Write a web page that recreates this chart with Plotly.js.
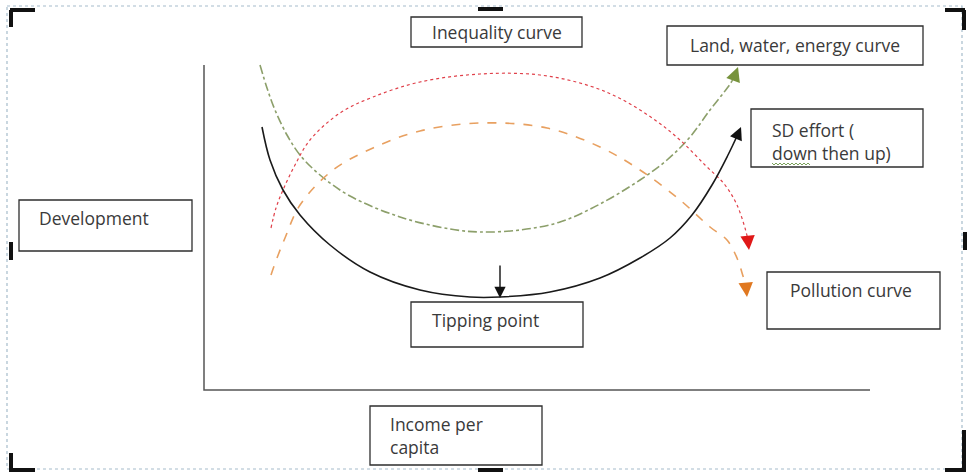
<!DOCTYPE html>
<html>
<head>
<meta charset="utf-8">
<script src="https://cdn.plot.ly/plotly-3.0.1.min.js"></script>
<style>html,body{margin:0;padding:0;background:#fff;}#chart{width:967px;height:472px;}</style>
</head>
<body>
<div id="chart"></div>
<script>
// Curves (diagram coordinates: x = income per capita, y = position down the page)
const sdX = [262, 270, 283, 300, 330, 370, 420, 470, 500, 550, 600, 640, 670, 692, 712, 728, 738];
const sdY = [127, 160, 190, 215, 245, 272, 290, 297, 297, 292, 278, 258, 238, 215, 185, 155, 134];

const ineqX = [271, 276, 283, 295, 310, 340, 373, 420, 480, 540, 590, 623, 655, 680, 705, 725, 737, 745, 748];
const ineqY = [228, 208, 190, 165, 140, 113, 97, 82, 74, 75, 86, 100, 120, 140, 165, 185, 205, 228, 240];

const pollX = [271, 277, 285, 300, 333, 373, 420, 480, 547, 600, 640, 680, 710, 727, 737, 743, 746];
const pollY = [275, 258, 238, 205, 170, 148, 131, 123, 128, 147, 170, 200, 227, 240, 258, 276, 286];

const landX = [260, 267, 275, 287, 300, 320, 350, 400, 450, 480, 520, 560, 600, 640, 667, 690, 710, 728, 734];
const landY = [65, 88, 110, 135, 155, 175, 196, 217, 229, 232, 230, 222, 204, 180, 160, 137, 110, 87, 78];

// Axes of the sketch
const axisX = [204, 204, 870];
const axisY = [65, 390, 390];

// Arrow heads: [headX, headY, tailX, tailY]
const sdHead = [741, 127, 738, 134];
const ineqHead = [749, 250, 748, 240];
const pollHead = [747, 297, 746, 286];
const landHead = [738, 67, 734, 78];
const tipHead = [500, 298, 500, 264];

// Label boxes: [x0, y0, x1, y1]
const boxes = [
  [411, 17, 582, 47],
  [667, 26, 923, 65],
  [751, 109, 923, 167],
  [19, 200, 192, 251],
  [411, 302, 583, 347],
  [767, 272, 940, 329],
  [370, 406, 542, 465]
];
const labelText = [
  "Inequality curve",
  "Land, water, energy curve",
  "SD effort (<br>down then up)",
  "Development",
  "Tipping point",
  "Pollution curve",
  "Income per<br>capita"
];
const labelX = [497, 795, 770, 37, 430, 788, 388];
const labelY = [32, 45, 141, 218, 320, 290, 435];
const labelAnchor = ["center", "center", "left", "left", "left", "left", "left"];

const font = {family: "Open Sans, Liberation Sans, sans-serif", size: 17.5, color: "#3a3a3a"};

const traces = [
  {x: axisX, y: axisY, mode: "lines", line: {color: "#555", width: 1.5}, hoverinfo: "skip"},
  {x: landX, y: landY, mode: "lines", line: {color: "#8c9f6a", width: 1.6, dash: "dashdot", shape: "spline"}, hoverinfo: "skip"},
  {x: ineqX, y: ineqY, mode: "lines", line: {color: "#e0404a", width: 1.2, dash: "dot", shape: "spline"}, hoverinfo: "skip"},
  {x: pollX, y: pollY, mode: "lines", line: {color: "#e8a060", width: 1.6, dash: "dash", shape: "spline"}, hoverinfo: "skip"},
  {x: sdX, y: sdY, mode: "lines", line: {color: "#1a1a1a", width: 1.6, shape: "spline"}, hoverinfo: "skip"}
];

function arrow(h, color, width, size) {
  return {x: h[0], y: h[1], ax: h[2], ay: h[3], xref: "x", yref: "y", axref: "x", ayref: "y",
          text: "", showarrow: true, arrowhead: 2, arrowsize: size, arrowwidth: width, arrowcolor: color};
}

const annotations = [
  arrow(sdHead, "#111", 1.6, 1.6),
  arrow(ineqHead, "#e01818", 1.6, 1.8),
  arrow(pollHead, "#e07820", 1.6, 1.8),
  arrow(landHead, "#77933c", 1.6, 1.8),
  arrow(tipHead, "#111", 1.4, 1.6)
];
labelText.forEach((t, i) => {
  annotations.push({x: labelX[i], y: labelY[i], xref: "x", yref: "y", text: t, showarrow: false,
    xanchor: labelAnchor[i], yanchor: "middle", align: "left", font: font});
});

const shapes = [];
// outer dashed frame
shapes.push({type: "rect", xref: "x", yref: "y", x0: 7, y0: 6, x1: 962, y1: 469,
  line: {color: "#a6bccb", width: 1.2, dash: "dot"}});
boxes.forEach(b => shapes.push({type: "rect", xref: "x", yref: "y", x0: b[0], y0: b[1], x1: b[2], y1: b[3],
  line: {color: "#2e2e2e", width: 1.3}, fillcolor: "rgba(0,0,0,0)"}));
// selection handles
const handles = [
  "M 10 10 L 35 10 M 11 10 L 11 27",
  "M 478 9 L 503 9",
  "M 945 10 L 965 10 M 964 10 L 964 30",
  "M 11 242 L 11 260",
  "M 965 232 L 965 250",
  "M 11 453 L 11 470 L 35 470",
  "M 478 470 L 503 470",
  "M 964 430 L 964 470 L 945 470"
];
handles.forEach(p => shapes.push({type: "path", xref: "x", yref: "y", path: p, line: {color: "#111", width: 4}}));
// spell-check squiggle under "down"
shapes.push({type: "path", xref: "x", yref: "y",
  path: "M 772 163 L 774 165 L 776 163 L 778 165 L 780 163 L 782 165 L 784 163 L 786 165 L 788 163 L 790 165 L 792 163 L 794 165 L 796 163 L 798 165 L 800 163 L 802 165 L 804 163 L 806 165 L 808 163 L 810 165",
  line: {color: "#7aa05a", width: 1}});

const layout = {
  width: 967, height: 472, autosize: false,
  margin: {l: 0, r: 0, t: 0, b: 0},
  paper_bgcolor: "#ffffff", plot_bgcolor: "#ffffff",
  showlegend: false,
  xaxis: {range: [0, 967], visible: false, fixedrange: true},
  yaxis: {range: [472, 0], visible: false, fixedrange: true},
  annotations: annotations,
  shapes: shapes
};

Plotly.newPlot("chart", traces, layout, {displayModeBar: false, staticPlot: true});
</script>
</body>
</html>
